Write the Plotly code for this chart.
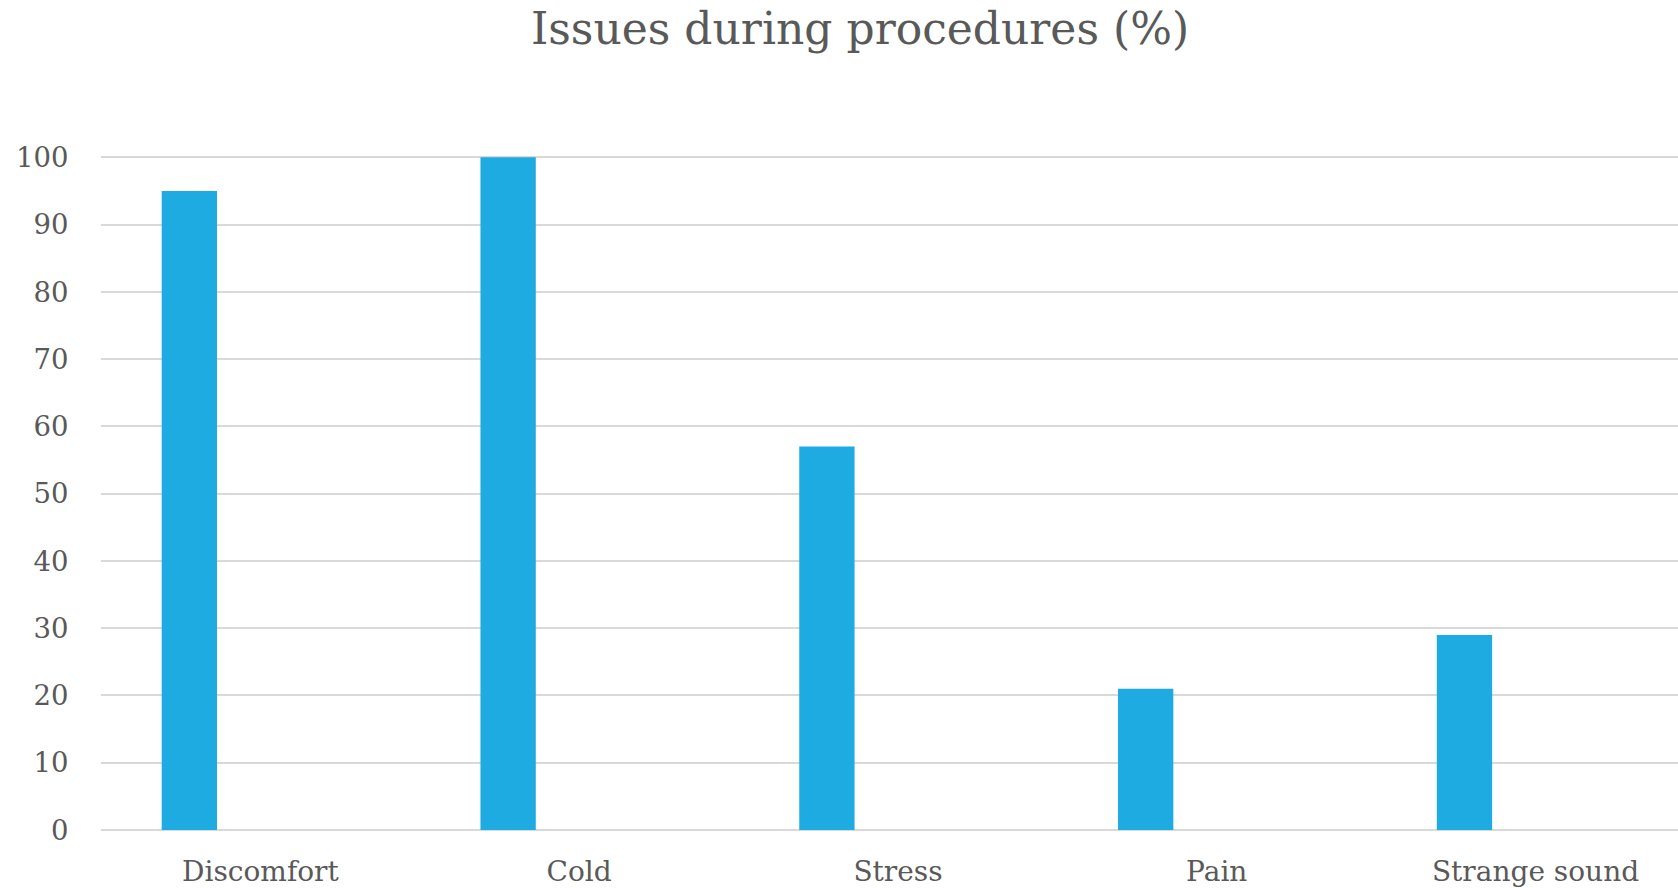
import plotly.graph_objects as go

categories = ["Discomfort", "Cold", "Stress", "Pain", "Strange sound"]
values = [95, 100, 57, 21, 29]
y_ticks = [0, 10, 20, 30, 40, 50, 60, 70, 80, 90, 100]

FONT = "DejaVu Serif"
TEXT = "#595959"
GRID = "#D9D9D9"

fig = go.Figure()
fig.add_trace(go.Bar(
    x=categories, y=values,
    width=0.1735, offset=-0.3096,
    marker=dict(color="#1DABE2", line=dict(width=0)),
    hoverinfo="x+y",
))

fig.update_layout(
    width=1678, height=888,
    margin=dict(l=101, r=0, t=156, b=58),
    paper_bgcolor="white", plot_bgcolor="white",
    showlegend=False,
    title=dict(text="Issues during procedures (%)", x=860/1678, xanchor="center",
               y=1 - 29/888, yanchor="middle", yref="container",
               font=dict(family=FONT, size=44, color=TEXT)),
    font=dict(family=FONT, color=TEXT),
)
fig.update_xaxes(
    type="category", range=[-0.5, 4.447], automargin=False,
    showgrid=False, showline=False, zeroline=False,
    tickfont=dict(family=FONT, size=28, color=TEXT),
    ticks="outside", ticklen=16, tickcolor="rgba(0,0,0,0)",
)
fig.update_yaxes(
    range=[0, 100.2], tickvals=y_ticks, automargin=False,
    showgrid=True, gridcolor=GRID, gridwidth=2,
    zeroline=True, zerolinecolor=GRID, zerolinewidth=2,
    showline=False,
    tickfont=dict(family=FONT, size=27.5, color=TEXT),
    ticks="outside", ticklen=26, tickcolor="rgba(0,0,0,0)",
)

fig.write_html("out.html")
